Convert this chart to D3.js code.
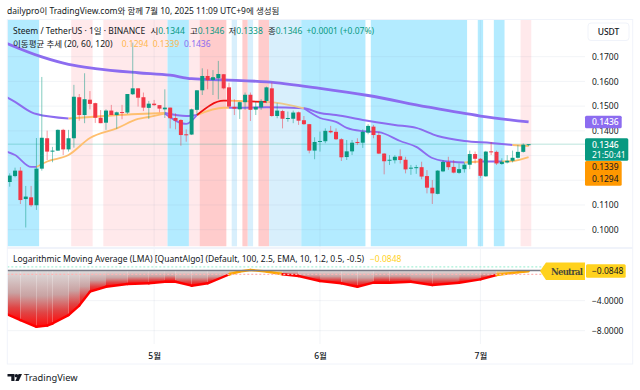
<!DOCTYPE html>
<html><head><meta charset="utf-8">
<script src="https://cdn.jsdelivr.net/npm/d3@7/dist/d3.min.js"></script>
<style>
html,body{margin:0;padding:0;background:#fff;overflow:hidden}
text{font-family:"Noto Sans","Noto Sans CJK KR",sans-serif}
</style></head><body><svg id="c" width="640" height="390"></svg>
<script>
const candleOpen=[.1193,.1217,.1239,.1124,.1131,.1099,.1247,.1370,.1316,.1320,.1404,.1325,.1370,.1536,.1464,.1526,.1512,.1453,.1433,.1482,.1464,.1476,.1474,.1548,.1572,.1536,.1493,.1510,.1504,.1487,.1494,.1452,.1444,.1386,.1385,.1485,.1564,.1622,.1606,.1613,.1629,.1576,.1497,.1487,.1516,.1546,.1486,.1495,.1521,.1572,.1460,.1480,.1449,.1449,.1475,.1443,.1427,.1320,.1355,.1358,.1400,.1396,.1366,.1294,.1317,.1355,.1352,.1393,.1417,.1383,.1308,.1279,.1281,.1297,.1283,.1247,.1249,.1253,.1217,.1170,.1145,.1236,.1274,.1254,.1230,.1245,.1263,.1306,.1287,.1216,.1317,.1315,.1266,.1272,.1279,.1291,.1315,.1344];
const candleHigh=[.1228,.1251,.1253,.1177,.1177,.1371,.1618,.1401,.1335,.1406,.1408,.1404,.1586,.1549,.1633,.1561,.1514,.1484,.1487,.1505,.1478,.1505,.1549,.1757,.1573,.1555,.1521,.1525,.1504,.1568,.1494,.1471,.1447,.1406,.1490,.1565,.1653,.1649,.1646,.1683,.1630,.1595,.1528,.1518,.1555,.1555,.1518,.1528,.1579,.1595,.1512,.1485,.1478,.1482,.1478,.1460,.1428,.1374,.1397,.1410,.1420,.1410,.1370,.1363,.1363,.1370,.1406,.1427,.1424,.1396,.1310,.1302,.1302,.1325,.1295,.1262,.1262,.1275,.1241,.1201,.1241,.1282,.1295,.1282,.1268,.1272,.1320,.1316,.1290,.1319,.1355,.1320,.1289,.1302,.1320,.1343,.1349,.1346];
const candleLow=[.1174,.1212,.1104,.1009,.1093,.1080,.1239,.1282,.1273,.1319,.1302,.1316,.1332,.1441,.1431,.1487,.1432,.1431,.1404,.1464,.1408,.1447,.1468,.1545,.1498,.1480,.1448,.1501,.1475,.1452,.1410,.1406,.1340,.1356,.1383,.1464,.1545,.1568,.1545,.1528,.1568,.1495,.1464,.1448,.1485,.1440,.1464,.1485,.1512,.1457,.1451,.1410,.1437,.1431,.1424,.1424,.1309,.1285,.1316,.1350,.1390,.1363,.1278,.1282,.1302,.1343,.1331,.1386,.1370,.1306,.1224,.1262,.1268,.1268,.1228,.1222,.1226,.1204,.1147,.1104,.1143,.1233,.1242,.1228,.1226,.1231,.1245,.1268,.1210,.1214,.1302,.1262,.1262,.1268,.1272,.1288,.1312,.1338];
const candleClose=[.1219,.1239,.1120,.1134,.1099,.1247,.1372,.1316,.1320,.1404,.1325,.1370,.1538,.1464,.1528,.1509,.1453,.1431,.1482,.1464,.1475,.1474,.1549,.1572,.1534,.1494,.1510,.1504,.1490,.1494,.1451,.1441,.1383,.1383,.1487,.1564,.1622,.1605,.1617,.1630,.1572,.1498,.1490,.1516,.1546,.1485,.1497,.1520,.1576,.1460,.1482,.1449,.1452,.1474,.1441,.1427,.1320,.1355,.1359,.1400,.1394,.1366,.1293,.1317,.1352,.1352,.1396,.1420,.1383,.1308,.1277,.1283,.1295,.1282,.1244,.1251,.1253,.1215,.1170,.1147,.1239,.1274,.1253,.1231,.1245,.1263,.1306,.1287,.1218,.1316,.1313,.1268,.1275,.1279,.1291,.1315,.1344,.1346];

const ma120Idx=[-1,6,11,16,24,30,34,40,48,58,67,78,88,97];
const ma120Val=[.1758,.1699,.1669,.1652,.1635,.1625,.1611,.1606,.1598,.1572,.1543,.1497,.1460,.1436];
const ma120Seg=[[-1,97,"#8c6cf0"]];

const ma60Idx=[-1,1,4,5,11,24,29,33,35,40,41,48,55,58,61,66,72,76,80,85,90,94,97];
const ma60Val=[.1541,.1517,.1476,.1468,.1450,.1468,.1472,.1460,.1464,.1493,.1493,.1495,.1491,.1472,.1464,.1444,.1424,.1412,.1379,.1359,.1351,.1343,.1339];
const ma60Seg=[[-1,11,"#8c6cf0"],[11,29,"#ffbf6e"],[29,35,"#8c6cf0"],[35,41,"#ffbf6e"],[41,94,"#8c6cf0"],[94,97,"#ffbf6e"]];

const ma20Idx=[-1,1,4,5,7,11,15,20,24,26,29,33,35,40,41,45,48,50,55,58,61,63,66,69,73,76,79,81,85,88,92,94,97];
const ma20Val=[.1319,.1302,.1254,.1254,.1276,.1302,.1371,.1410,.1448,.1456,.1470,.1428,.1464,.1522,.1522,.1519,.1517,.1513,.1491,.1452,.1436,.1412,.1399,.1395,.1359,.1335,.1290,.1278,.1272,.1276,.1276,.1278,.1294];
const ma20Seg=[[-1,5,"#8c6cf0"],[5,29,"#ffbf6e"],[29,35,"#8c6cf0"],[35,41,"#f01010"],[41,45,"#ffb060"],[45,48,"#f01010"],[48,55,"#edc98a"],[55,85,"#8c6cf0"],[85,88,"#ffbf6e"],[88,92,"#8c6cf0"],[92,97,"#ffbf6e"]];

const bandFrom=[0,12,18,30,34,36,42,44,45,47,49,55,68,88,91,96];
const bandTo  =[5,15,29,33,35,40,42,44,45,48,54,66,85,88,92,97];
const bandKind=["blue","pink","pink","blue","pink","rose","pale","rose","pale","rose","pale","blue","blue","blue","blue","pink"];
const bandColor={blue:"#b3ebff",pink:"#ffe9eb",rose:"#ffcccc",pale:"#d8effc"};

const lmaIdx=[-1,2,5,7,8,11,13,15,18,22,26,29,31,34,37,41,43,45,48,51,54,58,62,65,68,71,75,79,84,88,91,95,97];
const lmaVal=[-5.65,-6.59,-7.48,-7.32,-7.05,-5.92,-4.65,-2.81,-2.15,-1.79,-1.69,-1.48,-1.48,-2.01,-1.69,-.52,-.12,.08,-.12,-.49,-.72,-1.39,-1.69,-2.15,-1.61,-1.61,-1.48,-1.92,-1.61,-1.16,-.59,-.23,-.0848];

const priceTicks=[.17,.16,.15,.14,.11,.10];
const gridPrices=[.17,.16,.15,.14,.13,.12,.11,.10];
const lmaTicks=[-4,-8];
const monthIdx=[27,58,88];
const monthLabels=["5월","6월","7월"];

const title="dailypro이 TradingView.com와 함께 7월 10, 2025 11:09 UTC+9에 생성됨";
const legendMain="Steem / TetherUS · 1일 · BINANCE";
const legendMA="이동평균 추세 (20, 60, 120)";
const legendLMA="Logarithmic Moving Average (LMA) [QuantAlgo] (Default, 100, 2.5, EMA, 10, 1.2, 0.5, -0.5)";
const ohlcNames=["시","고","저","종"];
const ohlcVals=["0.1344","0.1346","0.1338","0.1346"];
const maLabels=["0.1294","0.1339","0.1436"];
const change="+0.0001 (+0.07%)";

const UP="#089981",DN="#f23645",PUR="#8c6cf0",ORG="#ff9800",GRID="#f0f3fa";
const FS=8.5;
const L=7.3,R=585,RR=632.7,TOP=20,PB=246.5,BOT=364;
const svg=d3.select("#c");
const x=d3.scaleLinear().domain([0,97]).range([9.7,528.6]);
const y=d3.scaleLinear().domain([.10,.17]).range([229.7,56.7]);
const yL=d3.scaleLinear().domain([-8,0]).range([330.7,270.6]);
const step=x(1)-x(0);
const defs=svg.append("defs");
defs.append("clipPath").attr("id","pm").append("rect").attr("x",L).attr("y",TOP).attr("width",R-L).attr("height",PB-TOP);
defs.append("clipPath").attr("id","pl").append("rect").attr("x",L).attr("y",250).attr("width",R-L).attr("height",92);
function grad(id,stops){const g=defs.append("linearGradient").attr("id",id).attr("x1",0).attr("y1",0).attr("x2",0).attr("y2",1);
  stops.forEach(s=>g.append("stop").attr("offset",s[0]).attr("stop-color",s[1]));}
grad("gR",[[0,"#dedcdc"],[.45,"#c9a2a2"],[.75,"#e04444"],[1,"#ff0a0a"]]);
grad("gO",[[0,"#e8e0d0"],[1,"#ffa600"]]);

// bands
const main=svg.append("g").attr("clip-path","url(#pm)");
main.selectAll("rect.b").data(bandFrom).join("rect").attr("class","b")
 .attr("x",d=>x(d)-step/2).attr("y",TOP).attr("height",PB-TOP)
 .attr("width",(d,i)=>x(bandTo[i])-x(d)+step).attr("fill",(d,i)=>bandColor[bandKind[i]]);

// grid
const grid=svg.append("g").attr("stroke","#8090b0").attr("stroke-opacity",.1);
grid.selectAll("line.h").data(gridPrices).join("line").attr("x1",L).attr("x2",R).attr("y1",d=>y(d)).attr("y2",d=>y(d));
grid.selectAll("line.hl").data([0,...lmaTicks]).join("line").attr("x1",L).attr("x2",R).attr("y1",d=>yL(d)).attr("y2",d=>yL(d));
grid.selectAll("line.v").data(monthIdx).join("line").attr("x1",d=>x(d)).attr("x2",d=>x(d)).attr("y1",TOP).attr("y2",344);

// current price line
main.append("line").attr("x1",L).attr("x2",R).attr("y1",y(.1346)).attr("y2",y(.1346)).attr("stroke",UP).attr("stroke-opacity",.18).attr("stroke-width",1.4);

// moving averages
const line=d3.line().x(d=>x(d[0])).y(d=>y(d[1])).curve(d3.curveMonotoneX);
function drawMA(ix,vals,segs,w){
  const pts=ix.map((d,i)=>[d,vals[i]]);
  segs.forEach(s=>{
    main.append("path").attr("d",line(pts.filter(p=>p[0]>=s[0]&&p[0]<=s[1]))).attr("fill","none")
      .attr("stroke",s[2]).attr("stroke-width",w).attr("stroke-linejoin","round");
  });
}
drawMA(ma120Idx,ma120Val,ma120Seg,2.8);
drawMA(ma60Idx,ma60Val,ma60Seg,2);
drawMA(ma20Idx,ma20Val,ma20Seg,1.8);

// candles
const idx=d3.range(candleOpen.length);
const col=i=>candleClose[i]>=candleOpen[i]?UP:DN;
main.selectAll("line.w").data(idx).join("line").attr("x1",x).attr("x2",x)
  .attr("y1",i=>y(candleHigh[i])).attr("y2",i=>y(candleLow[i])).attr("stroke",col).attr("stroke-opacity",.5).attr("stroke-width",1);
main.selectAll("rect.c").data(idx).join("rect")
  .attr("x",i=>x(i)-2).attr("width",4)
  .attr("y",i=>y(Math.max(candleOpen[i],candleClose[i])))
  .attr("height",i=>Math.max(1,Math.abs(y(candleOpen[i])-y(candleClose[i]))))
  .attr("fill",col);

// LMA pane
const low=svg.append("g").attr("clip-path","url(#pl)");
const area=d3.area().x(d=>x(d[0])).y0(yL(0)).y1(d=>yL(d[1]));
const lmaPts=lmaIdx.map((d,i)=>[d,lmaVal[i]]);
d3.pairs(lmaPts).forEach(([a,b])=>{
  const neutral=(a[1]+b[1])/2>-.5;
  low.append("path").attr("d",area([a,b])).attr("fill",neutral?"url(#gO)":"url(#gR)");
});
const lmaLine=d3.line().x(d=>x(d[0])).y(d=>yL(d[1])).curve(d3.curveMonotoneX);
d3.pairs(lmaPts).forEach(([a,b])=>{
  const neutral=(a[1]+b[1])/2>-.5;
  low.append("path").attr("d",lmaLine([a,b])).attr("fill","none").attr("stroke",neutral?"#ffa600":"#ff0000").attr("stroke-width",2.4).attr("stroke-linecap","round");
});
svg.append("line").attr("x1",L).attr("x2",541).attr("y1",yL(0)).attr("y2",yL(0)).attr("stroke","#787b86").attr("stroke-width",1.5);
[[.5,"#a8f0d8"],[-.5,"#ffb4b4"]].forEach(([v,c])=>svg.append("line").attr("x1",L).attr("x2",546).attr("y1",yL(v)).attr("y2",yL(v)).attr("stroke",c).attr("stroke-width",1.2).attr("stroke-dasharray","2 2"));

// frame
svg.append("rect").attr("x",L).attr("y",19.5).attr("width",RR-L).attr("height",BOT-19.5).attr("fill","none").attr("stroke",GRID).attr("stroke-width",1);
svg.append("line").attr("x1",L).attr("x2",RR).attr("y1",248).attr("y2",248).attr("stroke",GRID).attr("stroke-width",2);

// axes
const axR=svg.append("g").attr("transform",`translate(${R},0)`).call(d3.axisRight(y).tickValues(priceTicks).tickSize(0).tickPadding(7).tickFormat(d3.format(".4f")));
const axL=svg.append("g").attr("transform",`translate(${R},0)`).call(d3.axisRight(yL).tickValues(lmaTicks).tickSize(0).tickPadding(7).tickFormat(d3.format(".4f")));
const axB=svg.append("g").attr("transform","translate(0,351)").call(d3.axisBottom(x).tickValues(monthIdx).tickSize(0).tickPadding(2).tickFormat((d,i)=>monthLabels[i]));
[axR,axL,axB].forEach(a=>{a.select(".domain").remove();a.selectAll("text").attr("font-size",FS).attr("fill","#131722").style("font-family",'"Noto Sans","Noto Sans CJK KR",sans-serif');});
axB.selectAll("text").attr("font-weight",500);

// text helper
function T(px,py,s,o={}){return svg.append("text").attr("x",px).attr("y",py).text(s).attr("font-size",o.size||FS).attr("fill",o.fill||"#131722").attr("font-weight",o.weight||400).attr("text-anchor",o.anchor||"start");}
T(7,14,title);
T(13,33.7,legendMain);
["150.5","190","228.5","268"].forEach((p,i)=>{T(+p,33.7,ohlcNames[i]);T(+p+7.7,33.7,ohlcVals[i],{fill:UP});});
T(306.5,33.7,change,{fill:UP});
T(13,46.5,legendMA);
[[121.7,"#ffb74d"],[152.7,"#ffb74d"],[184,PUR]].forEach((a,i)=>T(a[0],46.5,maLabels[i],{fill:a[1]}));
T(13,262,legendLMA);
T(370,262,"−0.0848",{fill:"#ffd21e"});

// USDT button
svg.append("rect").attr("x",588).attr("y",23).attr("width",41).attr("height",17.5).attr("rx",3).attr("fill","#fff").attr("stroke",GRID);
T(608.5,35,"USDT",{anchor:"middle",weight:500});

// price labels
function box(px,py,w,h,c){svg.append("rect").attr("x",px).attr("y",py).attr("width",w).attr("height",h).attr("rx",1.5).attr("fill",c);}
box(585,y(.1436)-6.3,36.7,12.6,PUR);
T(592,y(.1436)+3.2,"0.1436",{fill:"#fff",weight:500});
box(585,138.3,43.3,22.4,UP);
T(592,147.5,"0.1346",{fill:"#fff",weight:500});
T(592,157.8,"21:50:41",{fill:"#fff"});
box(585,161,36.7,24.7,ORG);
T(592,170.3,"0.1339",{fill:"#131722"});
T(592,182,"0.1294",{fill:"#131722"});
box(586,264.3,39.7,13.4,"#ffd21e");
T(592,274,"−0.0848",{fill:"#131722"});

// Neutral callout
const tag=d3.path();tag.moveTo(540,271);tag.lineTo(546,262.5);tag.lineTo(585,262.5);tag.lineTo(585,280);tag.lineTo(546,280);tag.closePath();
svg.append("path").attr("d",tag.toString()).attr("fill","#ffd21e");
svg.append("text").attr("x",551).attr("y",274.6).text("Neutral").attr("font-size",8.5).attr("font-weight",700).attr("fill","#4a4a3a").style("font-family",'"DejaVu Serif",serif').attr("textLength",32);

// logo
const logo=svg.append("g").attr("fill","#131722");
logo.append("path").attr("d","M7.5 374h7v7h-3.2v-4.4H7.5z");
logo.append("circle").attr("cx",16.4).attr("cy",375.8).attr("r",1.8);
logo.append("path").attr("d","M18.6 374h3.4l-3.3 7h-3.4z");
T(24,381,"TradingView",{size:9.3});
</script></body></html>
